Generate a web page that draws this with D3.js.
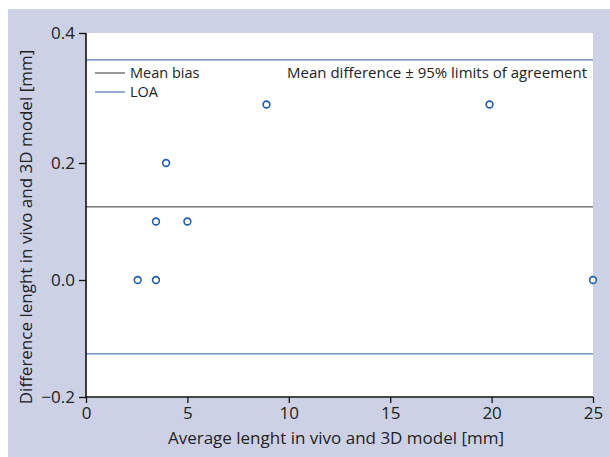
<!DOCTYPE html>
<html>
<head>
<meta charset="utf-8">
<script src="https://cdn.jsdelivr.net/npm/d3@7"></script>
<style>
  body { margin: 0; background: #fff; }
  text { font-family: "Open Sans", "Noto Sans", sans-serif; fill: #222; }
</style>
</head>
<body>
<div id="chart"></div>
<script>
// Data_____________________________________________
const avgLength = [2.55, 3.45, 3.45, 5.0, 3.95, 8.9, 19.9, 25.0];
const diffLength = [0.0, 0.0, 0.1, 0.1, 0.2, 0.3, 0.3, 0.0];
const xTicks = [0, 5, 10, 15, 20, 25];
const yTicks = [-0.2, 0.0, 0.2, 0.4];
const legendLabels = ['Mean bias', 'LOA'];

// mean bias and 95% limits of agreement from the differences
const bias = d3.mean(diffLength);
const sd = d3.deviation(diffLength);
const loa = [bias - 1.96 * sd, bias + 1.96 * sd];

const width = 610, height = 457;
const plotLeft = 86, plotRight = 593, plotTop = 33, plotBottom = 397;
const blue = '#1f5ea8';

const svg = d3.select('#chart').append('svg')
    .attr('width', width)
    .attr('height', height);

svg.append('rect')
    .attr('x', 8).attr('y', 9)
    .attr('width', width - 8).attr('height', height - 9)
    .attr('fill', '#cdd1e6');

svg.append('rect')
    .attr('x', plotLeft).attr('y', plotTop)
    .attr('width', plotRight - plotLeft).attr('height', plotBottom - plotTop)
    .attr('fill', '#fff');

// Scales_________________________________________
const x = d3.scaleLinear().domain([0, 25]).range([plotLeft, plotRight]);
const y = d3.scaleLinear().domain([-0.2, 0.4]).range([plotBottom, 46]);
// the top tick of the original axis sits at the frame corner
const yAxisScale = d3.scaleLinear()
    .domain([-0.2, 0.2, 0.4])
    .range([y(-0.2), y(0.2), plotTop]);

// Reference lines________________________________
svg.append('line')
    .attr('x1', plotLeft).attr('x2', plotRight)
    .attr('y1', y(bias)).attr('y2', y(bias))
    .attr('stroke', '#333').attr('stroke-width', 1);

svg.selectAll('.loa')
    .data(loa)
    .enter()
    .append('line')
    .attr('class', 'loa')
    .attr('x1', plotLeft).attr('x2', plotRight)
    .attr('y1', d => y(d)).attr('y2', d => y(d))
    .attr('stroke', '#2a5f9e').attr('stroke-width', 1);

// Axes___________________________________________
const xAxis = d3.axisBottom(x).tickValues(xTicks).tickSize(6).tickPadding(4).tickFormat(d3.format('d'));
const yAxis = d3.axisLeft(yAxisScale).tickValues(yTicks).tickSize(7).tickPadding(4).tickFormat(d3.format('.1f'));

const gx = svg.append('g')
    .attr('transform', `translate(0,${plotBottom})`)
    .call(xAxis);
const gy = svg.append('g')
    .attr('transform', `translate(${plotLeft},0)`)
    .call(yAxis);

[gx, gy].forEach(g => {
    g.select('.domain').attr('stroke', '#111').attr('stroke-width', 1.6);
    g.selectAll('.tick line').attr('stroke', '#111').attr('stroke-width', 1.3);
    g.selectAll('.tick text')
        .style('font-family', '"Open Sans", "Noto Sans", sans-serif')
        .style('font-size', '17px')
        .attr('fill', '#222');
});
gx.select('.domain').attr('d', `M${plotLeft},0H${plotRight}`);
gy.select('.domain').attr('d', `M0,${plotTop}V${plotBottom}`);

// Points_________________________________________
svg.selectAll('circle')
    .data(avgLength)
    .enter()
    .append('circle')
    .attr('cx', d => x(d))
    .attr('cy', (d, i) => y(diffLength[i]))
    .attr('r', 3.4)
    .attr('fill', '#fff')
    .attr('stroke', blue)
    .attr('stroke-width', 1.6);

// Axis titles____________________________________
svg.append('text')
    .attr('x', 336)
    .attr('y', 444)
    .attr('text-anchor', 'middle')
    .style('font-size', '17px')
    .text('Average lenght in vivo and 3D model [mm]');

svg.append('text')
    .attr('transform', `translate(32,${(plotTop + plotBottom) / 2 + 12}) rotate(-90)`)
    .attr('text-anchor', 'middle')
    .style('font-size', '17px')
    .text('Difference lenght in vivo and 3D model [mm]');

// Legend_________________________________________
const legend = svg.append('g')
    .attr('transform', 'translate(95,73)');

legend.selectAll('line')
    .data(legendLabels)
    .enter()
    .append('line')
    .attr('x1', 0).attr('x2', 30)
    .attr('y1', (d, i) => i * 19).attr('y2', (d, i) => i * 19)
    .attr('stroke', (d, i) => i === 0 ? '#333' : '#2a5f9e')
    .attr('stroke-width', 1);

legend.selectAll('text')
    .data(legendLabels)
    .enter()
    .append('text')
    .attr('x', 35)
    .attr('y', (d, i) => i * 19)
    .attr('dy', '.35em')
    .style('font-size', '14.5px')
    .text(d => d);

svg.append('text')
    .attr('x', 587)
    .attr('y', 73)
    .attr('dy', '.35em')
    .attr('text-anchor', 'end')
    .style('font-size', '15px')
    .text('Mean difference \u00b1 95% limits of agreement');
</script>
</body>
</html>
